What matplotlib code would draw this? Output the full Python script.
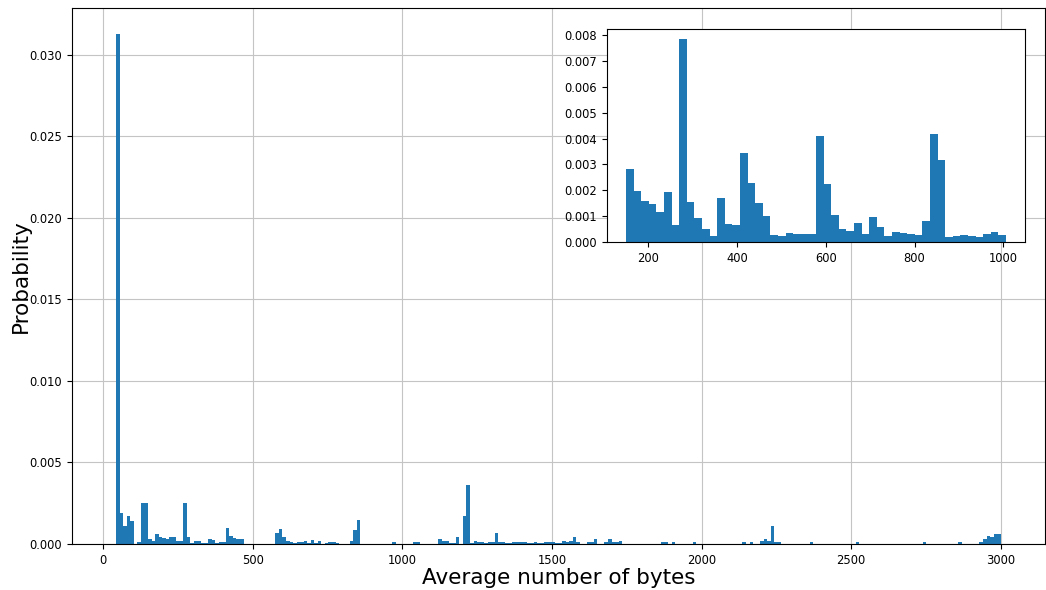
import numpy as np
import matplotlib
matplotlib.use("Agg")
import matplotlib.pyplot as plt


# Probability per bin, 250 bins over the full range of average message size
main_probs = [
    0.0313, 0.00192, 0.0011, 0.0017, 0.00143, 0.00002, 0.00012, 0.0025, 0.0025, 0.0003,
    0.00018, 0.0006, 0.0004, 0.00035, 0.0003, 0.0004, 0.00045, 0.00018, 0.00018, 0.0025,
    0.00045, 0.00004, 0.00016, 0.00016, 0.00008, 0.00006, 0.0003, 0.00022, 0.00006, 0.00014,
    0.00014, 0.00096, 0.00049, 0.00039, 0.00033, 0.0003, 0.00002, 0.00002, 0.00002, 0.00002,
    0.00002, 0.00002, 0.00002, 0.00002, 0.00002, 0.0007, 0.0009, 0.00045, 0.0002, 0.00014,
    0.00006, 0.0001, 0.0001, 0.00018, 0.00004, 0.00024, 0.00004, 0.00016, 0.00002, 0.00004,
    0.00012, 0.00012, 0.00004, 0.00002, 0.00002, 0.00002, 0.00018, 0.00086, 0.0015, 0.00002,
    0.00002, 0.00002, 0.00002, 0.00002, 0.00002, 0.00002, 0.00002, 0.00002, 0.0001, 0.00002,
    0.00002, 0.00002, 0.00002, 0.00002, 0.0001, 0.0001, 0.00002, 0.00002, 0.00002, 0.00002,
    0.00002, 0.0003, 0.00016, 0.00016, 0.00004, 0.00004, 0.00045, 0.00002, 0.0017, 0.0036,
    0.00004, 0.00018, 0.00012, 0.00012, 0.00004, 0.00012, 0.00012, 0.0007, 0.00012, 0.00012,
    0.00004, 0.00004, 0.00012, 0.00012, 0.00012, 0.00012, 0.00004, 0.00004, 0.00012, 0.00004,
    0.00004, 0.00012, 0.00012, 0.00012, 0.00004, 0.00004, 0.00018, 0.00012, 0.00018, 0.0004,
    0.00012, 0.00002, 0.00002, 0.00012, 0.00012, 0.0003, 0.00002, 0.00002, 0.00012, 0.0003,
    0.00012, 0.00012, 0.00016, 0.00002, 0.00002, 0.00002, 0.00002, 0.00002, 0.00002, 0.00002,
    0.00002, 0.00002, 0.00002, 0.00002, 0.0001, 0.0001, 0.00002, 0.0001, 0.00002, 0.00002,
    0.00002, 0.00002, 0.00002, 0.0001, 0.00002, 0.00002, 0.00002, 0.00002, 0.00002, 0.00002,
    0.00002, 0.00002, 0.00002, 0.00002, 0.00002, 0.00002, 0.00002, 0.0001, 0.00002, 0.0001,
    0.00002, 0.00002, 0.00018, 0.0003, 0.00018, 0.0011, 0.0001, 0.0001, 0.00002, 0.00002,
    0.00002, 0.00002, 0.00002, 0.00002, 0.00002, 0.00002, 0.0001, 0.00002, 0.00002, 0.00002,
    0.00002, 0.00002, 0.00002, 0.00002, 0.00002, 0.00002, 0.00002, 0.00002, 0.00002, 0.0001,
    0.00002, 0.00002, 0.00002, 0.00002, 0.00002, 0.00002, 0.00002, 0.00002, 0.00002, 0.00002,
    0.00002, 0.00002, 0.00002, 0.00002, 0.00002, 0.00002, 0.00002, 0.00002, 0.0001, 0.00002,
    0.00002, 0.00002, 0.00002, 0.00002, 0.00002, 0.00002, 0.00002, 0.00002, 0.0001, 0.00002,
    0.00002, 0.00002, 0.00002, 0.00002, 0.00014, 0.0003, 0.0005, 0.0004, 0.0006, 0.0006,
]

# Zoomed view: 50 bins between 150 and ~1000 bytes
zoom_probs = [
    0.00281, 0.00196, 0.00157, 0.00146, 0.00116, 0.00192, 0.00064, 0.00785, 0.00153, 0.00094,
    0.00052, 0.00022, 0.0017, 0.0007, 0.00064, 0.00345, 0.00227, 0.0015, 0.00099, 0.00027,
    0.00022, 0.00035, 0.00031, 0.00031, 0.00031, 0.00412, 0.00223, 0.00103, 0.00052, 0.00044,
    0.00073, 0.00032, 0.00098, 0.00057, 0.00022, 0.0004, 0.00036, 0.00032, 0.00027, 0.0008,
    0.00417, 0.00318, 0.00018, 0.00022, 0.00027, 0.00023, 0.00018, 0.00032, 0.0004, 0.00027,
]

main_min, main_max = 43, 3000
zoom_min, zoom_max = 150, 1006

main_edges = np.linspace(main_min, main_max, len(main_probs) + 1)
zoom_edges = np.linspace(zoom_min, zoom_max, len(zoom_probs) + 1)

fig = plt.figure(figsize=(10.46, 5.90), dpi=100)

# Full range histogram
ax = fig.add_axes([0.0688, 0.078, 0.9302, 0.9084])
ax.hist(main_edges[:-1], bins=main_edges, weights=main_probs, color="#1f77b4")
ax.grid(True, color="#c4c4c4", linewidth=0.8)
ax.set_axisbelow(True)
ax.set_xticks([0, 500, 1000, 1500, 2000, 2500, 3000])
ax.tick_params(labelsize=8.3)
ax.set_xlabel("Average number of bytes", fontsize=15.5, labelpad=1)
ax.set_ylabel("Probability", fontsize=15.5, labelpad=-1)

# Inset: close-up of the 150-1000 range
ax_in = fig.add_axes([0.5803, 0.5898, 0.3996, 0.361])
ax_in.hist(zoom_edges[:-1], bins=zoom_edges, weights=zoom_probs, color="#1f77b4")
ax_in.set_xticks([200, 400, 600, 800, 1000])
ax_in.tick_params(labelsize=8.3)

plt.savefig("out.png", dpi=100)
